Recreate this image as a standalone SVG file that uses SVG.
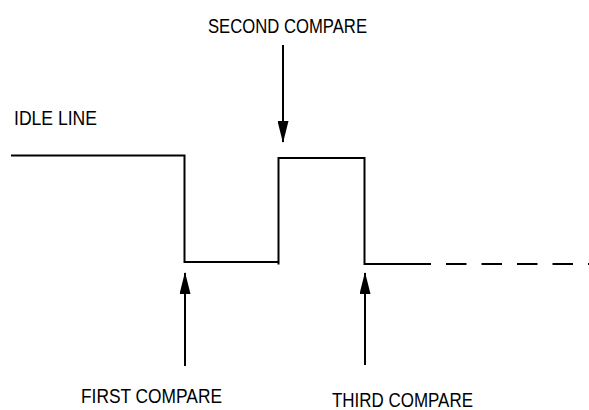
<svg xmlns="http://www.w3.org/2000/svg" width="589" height="410" viewBox="0 0 589 410">
  <style>
    .wave { fill: none; stroke: #000; stroke-width: 2; stroke-linejoin: miter; stroke-linecap: butt; }
    .dash { fill: none; stroke: #000; stroke-width: 2; stroke-dasharray: 20.5 15; }
    .ptr { fill: none; stroke: #000; stroke-width: 2; marker-end: url(#head); }
    .lbl { font-family: "Liberation Sans", Arial, Helvetica, sans-serif; font-size: 20px; fill: #000; }
  </style>
  <defs>
    <marker id="head" markerUnits="userSpaceOnUse" markerWidth="22" markerHeight="11" refX="21" refY="5.5" orient="auto" viewBox="0 0 22 11">
      <path d="M0,0 L22,5.5 L0,11 Z" fill="#000"/>
    </marker>
  </defs>
  <rect width="589" height="410" fill="#fff"/>

  <!-- serial line waveform -->
  <g id="waveform">
    <path class="wave" d="M11,155.5 H184.5 V262 H278.5"/>
    <path class="wave" d="M278.5,264.5 V158 H364.5 V264 H431"/>
    <path class="dash" d="M446,264 H589"/>
  </g>

  <!-- labels -->
  <g id="idle-line">
    <text class="lbl" x="14" y="125" textLength="83" lengthAdjust="spacingAndGlyphs">IDLE LINE</text>
  </g>
  <g id="second-compare">
    <text class="lbl" x="208" y="33" textLength="159" lengthAdjust="spacingAndGlyphs">SECOND COMPARE</text>
  </g>
  <g id="first-compare">
    <text class="lbl" x="81" y="403" textLength="141" lengthAdjust="spacingAndGlyphs">FIRST COMPARE</text>
  </g>
  <g id="third-compare">
    <text class="lbl" x="332" y="406.5" textLength="141" lengthAdjust="spacingAndGlyphs">THIRD COMPARE</text>
  </g>

  <!-- compare pointers -->
  <g id="connectors">
    <line class="ptr" x1="283" y1="45" x2="283" y2="142"/>
    <line class="ptr" x1="185" y1="366" x2="185" y2="273"/>
    <line class="ptr" x1="365" y1="365" x2="365" y2="273"/>
  </g>
</svg>
